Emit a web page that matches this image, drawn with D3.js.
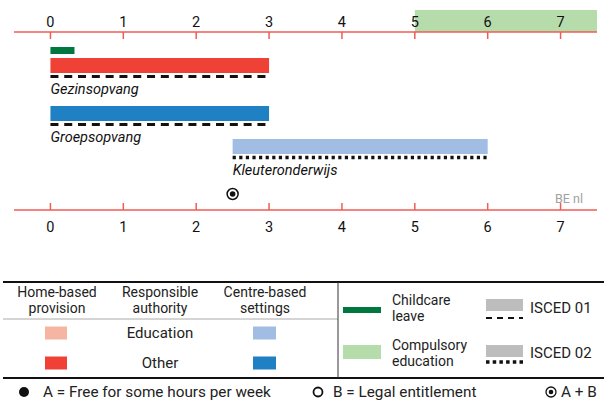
<!DOCTYPE html>
<html><head><meta charset="utf-8">
<script src="https://cdn.jsdelivr.net/npm/d3@7"></script>
<style>body{margin:0;background:#fff}svg{display:block;font-family:Roboto,"Noto Sans",sans-serif}</style>
</head><body>
<script>
// ---- data ----
const ageTicks = [0,1,2,3,4,5,6,7];
const compulsory = [5, 7.5];
const leaveStart = [0];
const leaveEnd = [0.33];
const serviceNames = ["Gezinsopvang","Groepsopvang","Kleuteronderwijs"];
const serviceStart = [0, 0, 2.5];
const serviceEnd = [3, 3, 6];
const serviceType = ["home-other","centre-other","centre-education"];
const serviceIsced = ["01","01","02"];
const markerAge = [2.5];
const markerType = ["A+B"];
const countryLabel = "BE nl";

const colors = {"home-other":"#ef4136","home-education":"#f6b5a2","centre-other":"#1f80c3","centre-education":"#a2bde3",
  leave:"#00773f", compulsory:"#b7dcac", axis:"#ef5b55", isced:"#bdbdbd"};

const W=604,H=401;
const svg=d3.select("body").append("svg").attr("width",W).attr("height",H);
const x=d3.scaleLinear().domain([-0.5,7.5]).range([14,597]);

// compulsory band
svg.append("rect").attr("x",x(compulsory[0])).attr("y",10).attr("width",x(compulsory[1])-x(compulsory[0])).attr("height",22).attr("fill",colors.compulsory);

function drawAxis(y, top){
  const g=svg.append("g").attr("transform",`translate(0,${y})`);
  g.append("line").attr("x1",x(-0.5)).attr("x2",x(7.5)).attr("stroke",colors.axis).attr("stroke-width",1.5);
  g.selectAll("line.t").data(ageTicks).join("line").attr("class","t")
    .attr("x1",d=>x(d)).attr("x2",d=>x(d)).attr("y1",0).attr("y2",top?7:-7)
    .attr("stroke",colors.axis).attr("stroke-width",1.5);
  g.selectAll("text").data(ageTicks).join("text").attr("x",d=>x(d)).attr("y",top?-5:22)
    .attr("text-anchor","middle").attr("font-size",14.5).attr("fill","#111").text(d=>d);
}
drawAxis(32,true);
drawAxis(210,false);

// childcare leave
svg.selectAll("rect.leave").data(leaveStart).join("rect").attr("class","leave")
  .attr("x",(d)=>x(d)).attr("y",47).attr("width",(d,i)=>x(leaveEnd[i])-x(d)).attr("height",7).attr("fill",colors.leave);

const rowTop=[58,106,139];
serviceNames.forEach((n,i)=>{
  const x0=x(serviceStart[i]), x1=x(serviceEnd[i]), y=rowTop[i];
  svg.append("rect").attr("x",x0).attr("y",y).attr("width",x1-x0).attr("height",15).attr("fill",colors[serviceType[i]]);
  const ln=svg.append("line").attr("x1",x0).attr("x2",x1).attr("y1",y+18.5).attr("y2",y+18.5).attr("stroke","#111");
  if(serviceIsced[i]==="01") ln.attr("stroke-width",3).attr("stroke-dasharray","8,5.8");
  else ln.attr("stroke-width",3.5).attr("stroke-dasharray","3.2,3.4");
  svg.append("text").attr("x",x0).attr("y",y+36).attr("font-size",14.5).attr("font-style","italic").attr("fill","#111").text(n);
});

// markers
markerAge.forEach((a,i)=>{
  svg.append("circle").attr("cx",x(a)).attr("cy",194).attr("r",5.5).attr("fill","#fff").attr("stroke","#111").attr("stroke-width",1.5);
  svg.append("circle").attr("cx",x(a)).attr("cy",194).attr("r",2.8).attr("fill","#111");
});
svg.append("text").attr("x",583).attr("y",203).attr("text-anchor","end").attr("font-size",12.5).attr("fill","#a0a0a0").text(countryLabel);

// ---- legend ----
const L=svg.append("g");
L.append("line").attr("x1",3).attr("x2",604).attr("y1",282).attr("y2",282).attr("stroke","#111").attr("stroke-width",2);
L.append("line").attr("x1",3).attr("x2",604).attr("y1",378).attr("y2",378).attr("stroke","#111").attr("stroke-width",2);
L.append("line").attr("x1",3).attr("x2",338).attr("y1",319).attr("y2",319).attr("stroke","#aaa").attr("stroke-width",1);
L.append("line").attr("x1",338).attr("x2",338).attr("y1",282).attr("y2",378).attr("stroke","#333").attr("stroke-width",1);

const headers=[["Home-based","provision",57],["Responsible","authority",160],["Centre-based","settings",265]];
headers.forEach(h=>{
  const t=L.append("text").attr("text-anchor","middle").attr("font-size",14).attr("fill","#222");
  t.append("tspan").attr("x",h[2]).attr("y",297).text(h[0]);
  t.append("tspan").attr("x",h[2]).attr("y",313).text(h[1]);
});
const legRows=[["Education","home-education","centre-education",333],["Other","home-other","centre-other",363]];
legRows.forEach(r=>{
  L.append("rect").attr("x",45).attr("y",r[3]-6.5).attr("width",22).attr("height",13).attr("fill",colors[r[1]]);
  L.append("rect").attr("x",253).attr("y",r[3]-6.5).attr("width",23).attr("height",13).attr("fill",colors[r[2]]);
  L.append("text").attr("x",160).attr("y",r[3]+5).attr("text-anchor","middle").attr("font-size",15).attr("fill","#222").text(r[0]);
});
// right legend
L.append("rect").attr("x",343).attr("y",307).attr("width",38).attr("height",6).attr("fill",colors.leave);
L.append("rect").attr("x",343).attr("y",345).attr("width",38).attr("height",14).attr("fill",colors.compulsory);
[["Childcare","leave",305],["Compulsory","education",350]].forEach(t=>{
  const tx=L.append("text").attr("font-size",14).attr("fill","#222");
  tx.append("tspan").attr("x",392).attr("y",t[2]).text(t[0]);
  tx.append("tspan").attr("x",392).attr("y",t[2]+16).text(t[1]);
});
L.append("rect").attr("x",486).attr("y",299).attr("width",37).attr("height",12).attr("fill",colors.isced);
L.append("line").attr("x1",486).attr("x2",523).attr("y1",318).attr("y2",318).attr("stroke","#111").attr("stroke-width",2.2).attr("stroke-dasharray","6,5");
L.append("rect").attr("x",486).attr("y",345).attr("width",37).attr("height",12).attr("fill",colors.isced);
L.append("line").attr("x1",486).attr("x2",523).attr("y1",362).attr("y2",362).attr("stroke","#111").attr("stroke-width",3.5).attr("stroke-dasharray","3.5,3.2");
L.append("text").attr("x",530).attr("y",313).attr("font-size",15).attr("fill","#222").text("ISCED 01");
L.append("text").attr("x",530).attr("y",358).attr("font-size",15).attr("fill","#222").text("ISCED 02");

// bottom row
L.append("circle").attr("cx",24).attr("cy",392).attr("r",5).attr("fill","#111");
L.append("text").attr("x",43).attr("y",397).attr("font-size",15.3).attr("fill","#222").text("A = Free for some hours per week");
L.append("circle").attr("cx",318).attr("cy",392).attr("r",4.5).attr("fill","#fff").attr("stroke","#111").attr("stroke-width",1.8);
L.append("text").attr("x",333).attr("y",397).attr("font-size",15.3).attr("fill","#222").text("B = Legal entitlement");
L.append("circle").attr("cx",551).attr("cy",392).attr("r",5).attr("fill","#fff").attr("stroke","#111").attr("stroke-width",1.3);
L.append("circle").attr("cx",551).attr("cy",392).attr("r",2.3).attr("fill","#111");
L.append("text").attr("x",561).attr("y",397).attr("font-size",15.3).attr("fill","#222").text("A + B");
</script>
</body></html>
